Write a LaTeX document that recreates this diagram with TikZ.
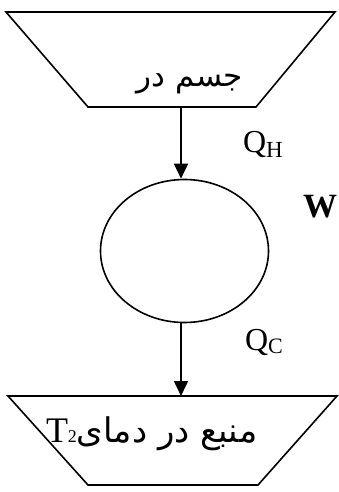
\documentclass[tikz,border=0pt]{standalone}
\usepackage{fontspec}
\setmainfont{Liberation Serif}
\newfontfamily\arabicfont[Script=Arabic]{DejaVu Sans}
\TeXXeTstate=1
\usetikzlibrary{shapes.geometric,arrows.meta}
\tikzset{
  shapeline/.style={line width=1.6pt, line join=miter},
  flow/.style={line width=1.6pt, -{Triangle[width=14pt,length=15pt]}},
  lbl/.style={inner sep=0pt, outer sep=0pt, anchor=base west},
  arlbl/.style={inner sep=0pt, outer sep=0pt, font=\arabicfont\fontsize{31}{31}\selectfont}
}
\begin{document}
\begin{tikzpicture}[x=1pt,y=-1pt]
\useasboundingbox (0,0) rectangle (339,492);
% top reservoir
\draw[shapeline] (6,12) -- (335,12) -- (256,107) -- (88,107) -- cycle;
\coordinate (hotout) at (181,107);
\node[arlbl] (hottext) at (190,84) {\beginR جسم در\endR};
% engine
\node[draw, ellipse, line width=1.6pt, minimum width=168pt, minimum height=143pt, inner sep=0pt] (engine) at (184.5,251) {};
% bottom reservoir
\draw[shapeline] (8,396) -- (337,396) -- (258,485) -- (88,485) -- cycle;
\coordinate (coldin) at (181,396);
\node[lbl] (coldtext) at (46,442) {\fontsize{36}{36}\selectfont T{\fontsize{18}{18}\selectfont 2}{\arabicfont\fontsize{34}{34}\selectfont\beginR منبع در دمای\endR}};
% flows
\draw[flow] (hotout) -- (hotout |- engine.north);
\draw[flow] (coldin |- engine.south) -- (coldin);
% labels
\node[lbl] (qh) at (243,152) {\fontsize{32}{32}\selectfont Q\raisebox{-5pt}{\fontsize{23}{23}\selectfont H}};
\node[lbl] (qc) at (245,350) {\fontsize{32}{32}\selectfont Q\raisebox{-3pt}{\fontsize{22}{22}\selectfont C}};
\node[lbl] (w) at (303,217) {\fontsize{34}{34}\selectfont\bfseries W};
\end{tikzpicture}
\end{document}
